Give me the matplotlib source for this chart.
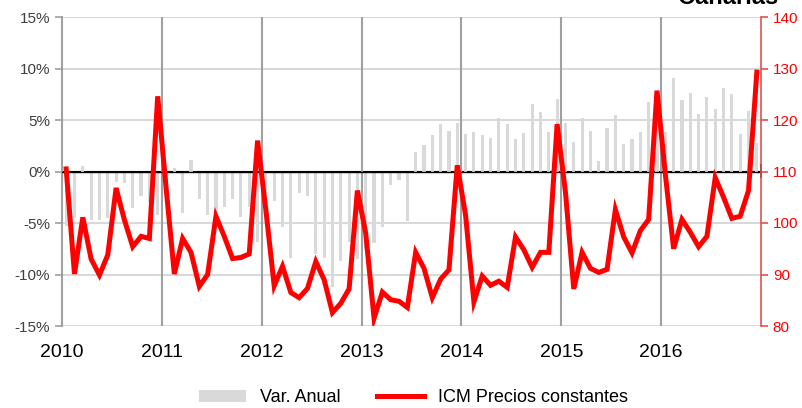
import numpy as np
import matplotlib
matplotlib.use('Agg')
import matplotlib.pyplot as plt
from matplotlib.ticker import FuncFormatter

plt.rcParams['font.family'] = ['Liberation Sans', 'DejaVu Sans']

years = ['2010', '2011', '2012', '2013', '2014', '2015', '2016']

# Var. Anual (%), monthly 2010-2016
var_anual = [
    -5.3, -4.5, 0.55, -4.7, -4.7, -4.5, -1.0, -1.1, -3.5, -2.4, -3.0, -4.2,
    -1.0, 0.3, -4.0, 1.15, -2.7, -4.2, -3.9, -3.4, -2.7, -4.4, -3.4, -6.8,
    -3.0, -2.9, -5.4, -8.4, -2.1, -2.4, -8.0, -8.4, -11.2, -8.7, -6.8, -8.5,
    -7.5, -6.9, -5.4, -1.3, -0.8, -4.8, 1.9, 2.6, 3.5, 4.6, 3.9, 4.7,
    3.6, 3.8, 3.5, 3.3, 5.2, 4.6, 3.2, 3.7, 6.6, 5.8, 3.8, 7.05,
    4.7, 2.85, 5.2, 3.9, 1.0, 4.25, 5.5, 2.7, 3.2, 3.8, 6.7, 6.5,
    3.8, 9.1, 6.9, 7.6, 5.6, 7.2, 6.1, 8.15, 7.5, 3.6, 5.9, 2.75,
]

# ICM Precios constantes, monthly 2010-2016
icm = [
    110.5, 90.1, 101.1, 93.0, 89.9, 93.8, 106.8, 100.6, 95.4, 97.4, 97.0, 124.6,
    107.0, 90.1, 97.0, 94.3, 87.7, 90.0, 101.3, 97.4, 93.1, 93.3, 94.0, 116.0,
    102.5, 87.8, 91.6, 86.5, 85.5, 87.3, 92.5, 89.0, 82.6, 84.4, 87.2, 106.3,
    98.0, 81.5, 86.6, 85.1, 84.8, 83.6, 94.3, 91.2, 85.5, 89.1, 90.9, 111.2,
    101.5, 84.7, 89.7, 87.9, 88.7, 87.5, 97.3, 94.8, 91.4, 94.3, 94.3, 119.2,
    106.0, 87.2, 94.3, 91.2, 90.4, 91.0, 102.6, 97.3, 94.2, 98.5, 100.7, 125.7,
    109.5, 95.0, 100.7, 98.2, 95.4, 97.4, 108.8, 105.0, 100.9, 101.3, 106.3, 129.3,
]

x = np.arange(len(icm)) + 0.5

fig = plt.figure(figsize=(8.03, 4.08), dpi=100)
ax = fig.add_axes([62/803, 1-326/408, 699/803, 309/408])

ax.bar(x, var_anual, width=0.38, color='#d9d9d9', zorder=2, label='Var. Anual')
ax.set_xlim(0, len(icm))
ax.set_ylim(-15, 15)
ax.set_yticks(np.arange(-15, 16, 5))
ax.yaxis.set_major_formatter(FuncFormatter(lambda v, p: '%d%%' % v))
ax.set_xticks(np.arange(0, len(icm), 12))
ax.set_xticklabels(years, fontsize=14)
ax.tick_params(axis='x', length=0, pad=13, colors='black')
ax.tick_params(axis='y', length=5, width=1.2, color='#a0a0a0', labelcolor='#404040', labelsize=11)

for v in np.arange(-15, 16, 5):
    if v != 0:
        ax.axhline(v, color='#d9d9d9', lw=1.5, zorder=0)
for v in np.arange(12, len(icm), 12):
    ax.axvline(v, color='#a0a0a0', lw=1.5, zorder=1)
ax.axhline(0, color='black', lw=1.0, zorder=3)

for s in ['top', 'bottom']:
    ax.spines[s].set_visible(False)
ax.spines['left'].set_color('#a0a0a0')
ax.spines['left'].set_linewidth(1.5)
ax.spines['right'].set_visible(False)

# crossing ticks on the zero axis
sec = ax.secondary_xaxis(0.5)
sec.set_xticks(np.arange(0, len(icm) + 1, 12))
sec.set_xticklabels([])
sec.tick_params(direction='inout', length=10, width=1.2, color='black')
sec.spines['bottom'].set_visible(False)

ax2 = ax.twinx()
ax2.plot(x, icm, color='#ff0000', lw=3.6, solid_joinstyle='miter', zorder=5,
         label='ICM Precios constantes')
ax2.set_ylim(80, 140)
ax2.set_yticks(np.arange(80, 141, 10))
ax2.tick_params(axis='y', length=5, width=1.2, color='#e05050', labelcolor='#ff0000', labelsize=11)
for s in ['top', 'bottom', 'left']:
    ax2.spines[s].set_visible(False)
ax2.spines['right'].set_color('#e05050')
ax2.spines['right'].set_linewidth(1.2)

h1, l1 = ax.get_legend_handles_labels()
h2, l2 = ax2.get_legend_handles_labels()
fig.legend(h1 + h2, l1 + l2, loc='center', bbox_to_anchor=(0.515, 0.025), ncol=2,
           frameon=False, fontsize=13, handlelength=2.6, columnspacing=2.0)

fig.text(778/803, 404/408, 'Canarias', ha='right', va='baseline',
         fontsize=17, fontweight='bold', color='black')

fig.savefig('out.png', dpi=100)
